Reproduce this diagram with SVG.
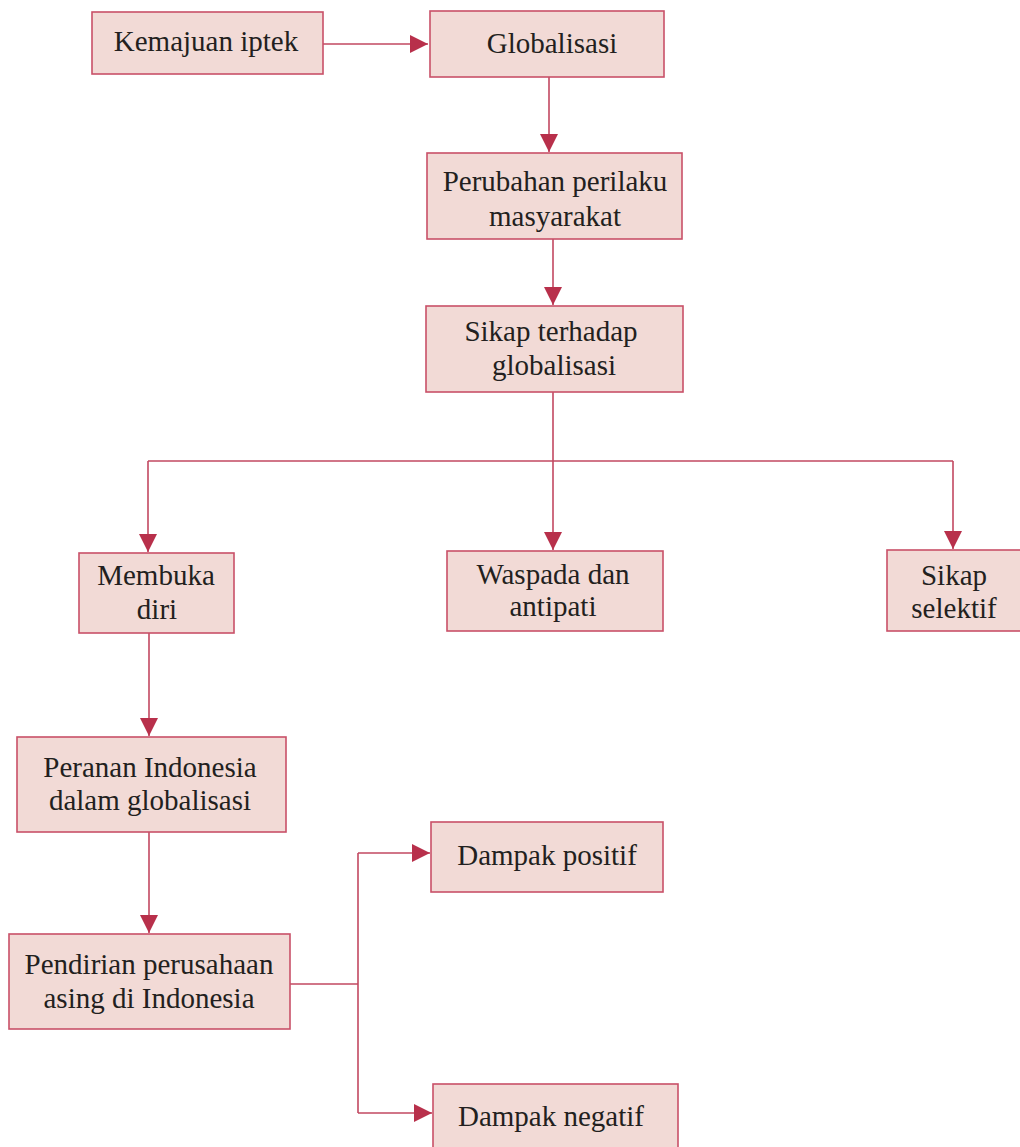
<svg xmlns="http://www.w3.org/2000/svg" width="1020" height="1147" viewBox="0 0 1020 1147">
<style>
.box{fill:#f2dad6;stroke:#c95068;stroke-width:1.6}
.t{font-family:"Liberation Serif","DejaVu Serif",serif;font-size:29px;fill:#231f20;text-anchor:middle}
.c{fill:none;stroke:#c24861;stroke-width:1.6}
</style>
<defs>
<marker id="ah" viewBox="0 0 10 10" refX="10" refY="5" markerWidth="18" markerHeight="18" markerUnits="userSpaceOnUse" orient="auto">
<path d="M0,0 L10,5 L0,10 Z" fill="#b8304b"/>
</marker>
</defs>
<rect width="1020" height="1147" fill="#ffffff"/>
<g id="connectors">
<line class="c" x1="323" y1="44" x2="428" y2="44" marker-end="url(#ah)"/>
<line class="c" x1="549" y1="77" x2="549" y2="152" marker-end="url(#ah)"/>
<line class="c" x1="553" y1="239" x2="553" y2="305" marker-end="url(#ah)"/>
<line class="c" x1="553" y1="392" x2="553" y2="550" marker-end="url(#ah)"/>
<line class="c" x1="148" y1="461" x2="953" y2="461"/>
<line class="c" x1="148" y1="461" x2="148" y2="552" marker-end="url(#ah)"/>
<line class="c" x1="953" y1="461" x2="953" y2="549" marker-end="url(#ah)"/>
<line class="c" x1="149" y1="633" x2="149" y2="736" marker-end="url(#ah)"/>
<line class="c" x1="149" y1="832" x2="149" y2="933" marker-end="url(#ah)"/>
<line class="c" x1="290" y1="984" x2="358" y2="984"/>
<line class="c" x1="358" y1="853" x2="358" y2="1113"/>
<line class="c" x1="358" y1="853" x2="430" y2="853" marker-end="url(#ah)"/>
<line class="c" x1="358" y1="1113" x2="432" y2="1113" marker-end="url(#ah)"/>
</g>
<g id="n1"><rect class="box" x="92" y="12" width="231" height="62"/><text class="t" x="206" y="51">Kemajuan iptek</text></g>
<g id="n2"><rect class="box" x="430" y="11" width="234" height="66"/><text class="t" x="552" y="53">Globalisasi</text></g>
<g id="n3"><rect class="box" x="427" y="153" width="255" height="86"/><text class="t" x="555" y="191">Perubahan perilaku</text><text class="t" x="555" y="226">masyarakat</text></g>
<g id="n4"><rect class="box" x="426" y="306" width="257" height="86"/><text class="t" x="551" y="341">Sikap terhadap</text><text class="t" x="554" y="375">globalisasi</text></g>
<g id="n5"><rect class="box" x="79" y="553" width="155" height="80"/><text class="t" x="156" y="585">Membuka</text><text class="t" x="157" y="619">diri</text></g>
<g id="n6"><rect class="box" x="447" y="551" width="216" height="80"/><text class="t" x="553" y="584">Waspada dan</text><text class="t" x="553" y="616">antipati</text></g>
<g id="n7"><rect class="box" x="887" y="550" width="136" height="81"/><text class="t" x="954" y="585">Sikap</text><text class="t" x="954" y="618">selektif</text></g>
<g id="n8"><rect class="box" x="17" y="737" width="269" height="95"/><text class="t" x="150" y="777">Peranan Indonesia</text><text class="t" x="150" y="810">dalam globalisasi</text></g>
<g id="n9"><rect class="box" x="9" y="934" width="281" height="95"/><text class="t" x="149" y="974">Pendirian perusahaan</text><text class="t" x="149" y="1008">asing di Indonesia</text></g>
<g id="n10"><rect class="box" x="431" y="822" width="232" height="70"/><text class="t" x="547" y="865">Dampak positif</text></g>
<g id="n11"><rect class="box" x="433" y="1084" width="245" height="70"/><text class="t" x="551" y="1126">Dampak negatif</text></g>
</svg>
